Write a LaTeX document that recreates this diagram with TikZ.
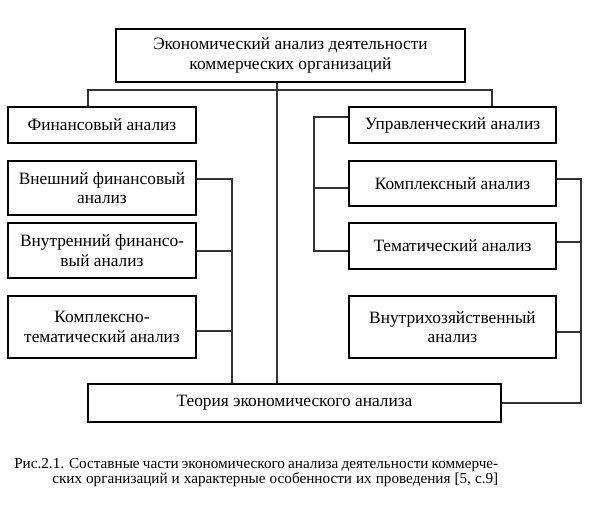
\documentclass[tikz,border=0pt]{standalone}
\usepackage{fontspec}
\setmainfont{Liberation Serif}
\begin{document}
\begin{tikzpicture}[x=0.75pt,y=-0.75pt,
  box/.style={draw=black, line width=1.1pt, inner sep=0pt, align=center, font=\fontsize{13}{14.5}\selectfont},
  conn/.style={draw=black!80, line width=0.8pt},
  capt/.style={inner sep=0pt, anchor=west, font=\fontsize{11.4}{13}\selectfont}]
\useasboundingbox[fill=white] (0,0) rectangle (614,514);
% boxes
\node[box, minimum width=261.75pt, minimum height=39.75pt] (top) at (290.5,55.5) {Экономический анализ деятельности\\коммерческих организаций};
\node[box, minimum width=141pt, minimum height=27pt] (fin) at (102,125) {Финансовый анализ};
\node[box, minimum width=141pt, minimum height=40.5pt] (vnesh) at (102,188) {Внешний финансовый\\анализ};
\node[box, minimum width=141pt, minimum height=41.25pt] (vnutr) at (102,250.5) {Внутренний финансо-\\вый анализ};
\node[box, minimum width=141pt, minimum height=46.5pt] (kt) at (102,327) {Комплексно-\\тематический анализ};
\node[box, minimum width=155.25pt, minimum height=27pt] (upr) at (452.5,125) {Управленческий анализ};
\node[box, minimum width=155.25pt, minimum height=33.75pt] (kompl) at (452.5,183.5) {Комплексный анализ};
\node[box, minimum width=155.25pt, minimum height=34.5pt] (tem) at (452.5,246) {Тематический анализ};
\node[box, minimum width=155.25pt, minimum height=46.5pt] (vh) at (452.5,327) {Внутрихозяйственный\\анализ};
\node[box, minimum width=309.75pt, minimum height=28.5pt] (theory) at (294.5,403) {Теория экономического анализа};
% helper coordinates
\coordinate (C) at (277,90);
\coordinate (busL) at (88,90);
\coordinate (busR) at (492,90);
\coordinate (L1) at (232,179);
\coordinate (L2) at (232,251);
\coordinate (L3) at (232,331);
\coordinate (M1) at (314,117);
\coordinate (M2) at (314,188);
\coordinate (M3) at (314,251);
\coordinate (R1) at (581,179);
\coordinate (R2) at (581,242);
\coordinate (R3) at (581,332);
\coordinate (R4) at (581,403);
% connectors
\draw[conn] (top.south -| C) -- (theory.north -| C);
\draw[conn] (fin.north -| busL) -- (busL) -- (busR) -- (upr.north -| busR);
\draw[conn] (vnesh.east |- L1) -- (L1) -- (theory.north -| L1);
\draw[conn] (vnutr.east |- L2) -- (L2);
\draw[conn] (kt.east |- L3) -- (L3);
\draw[conn] (upr.west |- M1) -- (M1) -- (M3) -- (tem.west |- M3);
\draw[conn] (kompl.west |- M2) -- (M2);
\draw[conn] (kompl.east |- R1) -- (R1) -- (R4) -- (theory.east |- R4);
\draw[conn] (tem.east |- R2) -- (R2);
\draw[conn] (vh.east |- R3) -- (R3);
% caption
\node[capt] (cap1) at (14,465) {\makebox[363pt][s]{Рис.2.1. Составные части экономического анализа деятельности коммерче-}};
\node[capt] (cap2) at (52,480) {\makebox[334.5pt][s]{ских организаций и характерные особенности их проведения [5, с.9]}};
\end{tikzpicture}
\end{document}
